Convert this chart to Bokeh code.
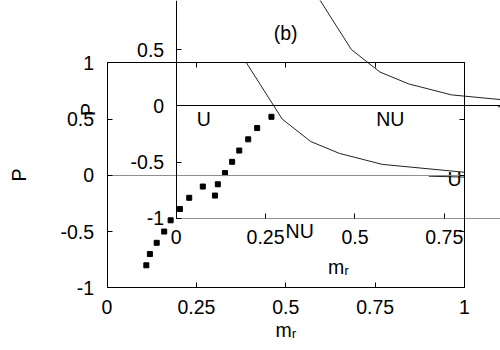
from bokeh.plotting import figure
from bokeh.models import Range1d, LinearAxis, FixedTicker
from bokeh.core.properties import value
from bokeh.embed import file_html
from bokeh.resources import INLINE

# ---------------- data ----------------
X_TICKS = [0, 0.25, 0.5, 0.75, 1]
X_TICK_LABELS = ["0", "0.25", "0.5", "0.75", "1"]
Y_TICKS = [-1, -0.5, 0, 0.5, 1]
Y_TICK_LABELS = ["-1", "-0.5", "0", "0.5", "1"]
X_LABEL = "mᵣ"
Y_LABEL = "P"

# measured points (panel a)
POINTS_MR = [0.460, 0.420, 0.395, 0.370, 0.350, 0.330, 0.310, 0.268, 0.302,
             0.230, 0.204, 0.178, 0.160, 0.139, 0.120, 0.110]
POINTS_P = [0.52, 0.42, 0.32, 0.22, 0.12, 0.02, -0.08, -0.10, -0.18,
            -0.20, -0.30, -0.40, -0.50, -0.60, -0.70, -0.80]

# boundary curve (drawn in both panels)
CURVE_MR = [0.39, 0.49, 0.57, 0.65, 0.77, 1.0]
CURVE_P = [1.0, 0.50, 0.30, 0.195, 0.097, 0.027]

# short branch near P = 0
BRANCH_MR = [0.90, 1.0]
BRANCH_P = [-0.008, -0.016]

# region labels
LABELS_A = ["U", "NU"]
LABELS_A_MR = [0.972, 0.539]
LABELS_A_P = [-0.037, -0.497]

LABELS_B = ["U", "NU", "(b)"]
LABELS_B_MR = [0.077, 0.599, 0.306]
LABELS_B_P = [-0.12, -0.12, 0.651]

# ---------------- layout ----------------
W, H = 500, 350
AX0, AY0 = 106.5, 174.8     # pixel of (0, 0) in panel a
BX0, BY0 = 175.7, 105.3     # pixel of (0, 0) in panel b
SX, SY = 357.5, 112.5       # pixels per unit

FONT = "Liberation Sans"
FS = "19.5px"


def xr(x0):
    return Range1d(-x0 / SX, (W - x0) / SX)


def yr(y0):
    return Range1d(-(H - y0) / SY, y0 / SY)


p = figure(width=W, height=H, output_backend="svg", toolbar_location=None,
           x_axis_type=None, y_axis_type=None, min_border=0,
           x_range=xr(AX0), y_range=yr(AY0))
p.outline_line_color = None
p.background_fill_color = "white"
p.border_fill_color = "white"
p.extra_x_ranges = {"b": xr(BX0)}
p.extra_y_ranges = {"b": yr(BY0)}


def make_axis(side, rn, loc, bounds, ticks, labels=None, line_color="black",
              tick_len=5, standoff=12, label=None, label_standoff=5):
    ax = LinearAxis(x_range_name=rn, y_range_name=rn, fixed_location=loc,
                    bounds=bounds,
                    ticker=FixedTicker(ticks=ticks, minor_ticks=[]))
    ax.axis_line_color = line_color
    ax.axis_line_width = 1
    ax.major_tick_line_color = "black"
    ax.major_tick_in = tick_len
    ax.major_tick_out = 0
    ax.minor_tick_line_color = None
    ax.major_label_standoff = standoff
    ax.major_label_text_font = FONT
    ax.major_label_text_font_size = FS
    ax.major_label_text_color = "black"
    if labels is not None:
        ax.major_label_overrides = dict(zip(ticks, labels))
    else:
        ax.major_label_text_color = None
    if label is not None:
        ax.axis_label = label
        ax.axis_label_text_font = FONT
        ax.axis_label_text_font_size = FS
        ax.axis_label_text_font_style = "normal"
        ax.axis_label_text_color = "black"
        ax.axis_label_standoff = label_standoff
    p.add_layout(ax, side)
    return ax


# ----- panel a -----
make_axis("left", "default", 0, (-1, 1), Y_TICKS, Y_TICK_LABELS, standoff=13,
          label=Y_LABEL, label_standoff=28)
make_axis("below", "default", -1, (0, 1), X_TICKS, X_TICK_LABELS, standoff=12,
          label=X_LABEL, label_standoff=2)
make_axis("right", "default", 1, (-1, 1), Y_TICKS)
make_axis("above", "default", 1, (0, 1), X_TICKS)
make_axis("below", "default", 0, (0, 1), [], line_color="#8f8f8f", tick_len=0)

p.line(CURVE_MR, CURVE_P, line_color="#222222", line_width=1)
p.line(BRANCH_MR, BRANCH_P, line_color="#222222", line_width=1)
p.scatter(POINTS_MR, POINTS_P, marker="square", size=5,
          fill_color="black", line_color="black")
p.text(LABELS_A_MR, LABELS_A_P, text=LABELS_A, text_font=value(FONT),
       text_font_size=FS, text_align="center", text_baseline="middle",
       text_color="black")

# ----- panel b -----
make_axis("left", "b", 0, (-1, 1), Y_TICKS, Y_TICK_LABELS, standoff=12,
          label=Y_LABEL, label_standoff=29)
make_axis("below", "b", -1, (0, 1), X_TICKS, X_TICK_LABELS, standoff=12,
          label=X_LABEL, label_standoff=8, line_color="#8f8f8f")
make_axis("below", "b", 0, (0, 1), [], tick_len=0)

p.line(CURVE_MR, CURVE_P, line_color="#222222", line_width=1,
       x_range_name="b", y_range_name="b")
p.line(BRANCH_MR, BRANCH_P, line_color="#222222", line_width=1,
       x_range_name="b", y_range_name="b")
p.text(LABELS_B_MR, LABELS_B_P, text=LABELS_B, text_font=value(FONT),
       text_font_size=FS, text_align="center", text_baseline="middle",
       text_color="black", x_range_name="b", y_range_name="b")

open("out.html", "w").write(file_html(p, INLINE))
